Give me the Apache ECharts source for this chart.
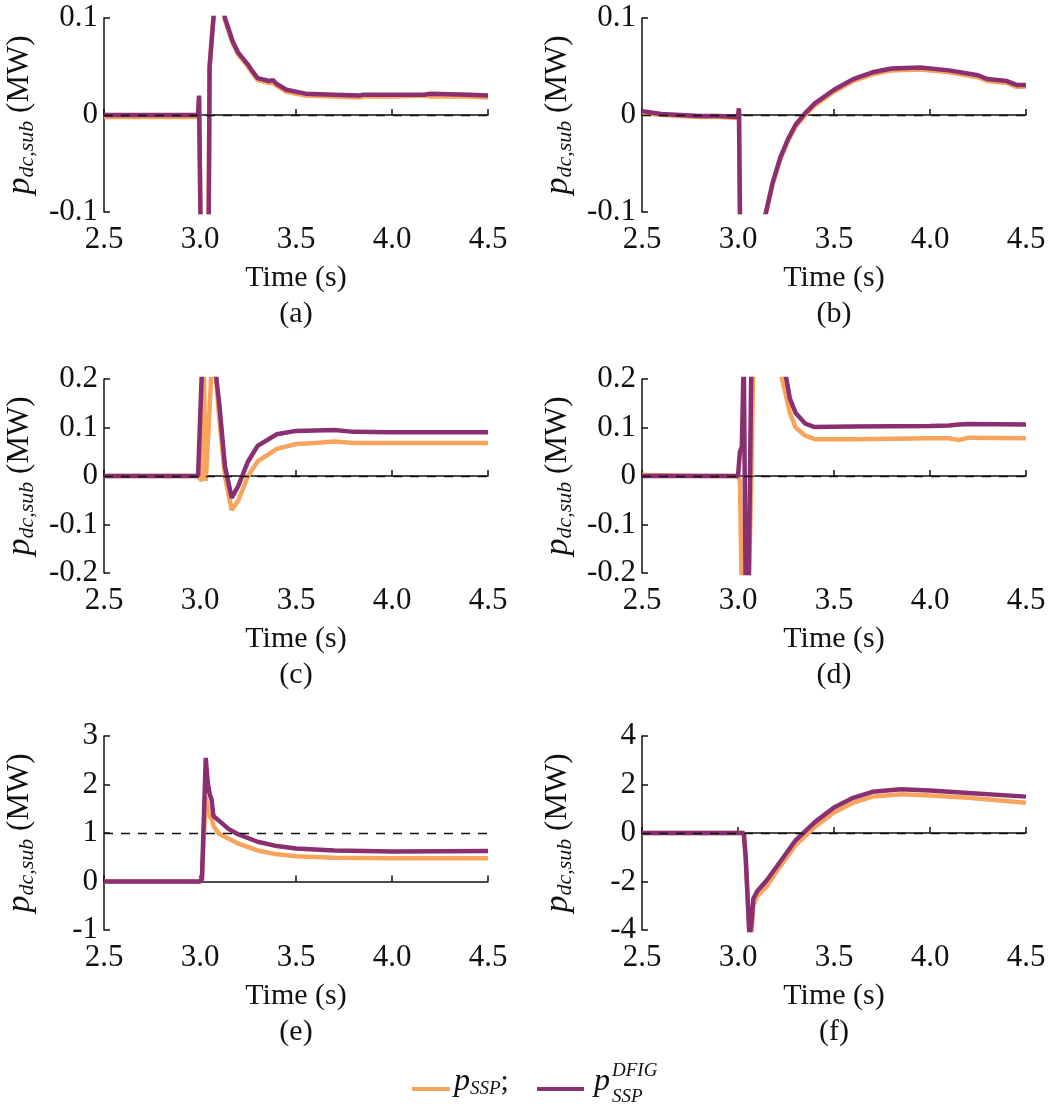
<!DOCTYPE html>
<html>
<head>
<meta charset="utf-8">
<script src="https://cdn.jsdelivr.net/npm/echarts@6/dist/echarts.min.js"></script>
<style>
html,body{margin:0;padding:0;background:#fff;}
#main{width:1049px;height:1113px;}
</style>
</head>
<body>
<div id="main"></div>
<script>
// (a)
var tA = [2.5, 2.99, 2.995, 3.0, 3.005, 3.02, 3.045, 3.05, 3.078, 3.09, 3.13, 3.17, 3.2, 3.25, 3.27, 3.3, 3.36, 3.38, 3.4, 3.45, 3.55, 3.7, 3.83, 3.85, 4.0, 4.17, 4.2, 4.4, 4.5];
var aSSP  = [-0.002, -0.002, 0.018, 0.018, -0.15, -0.15, -0.12, 0.05, 0.12, 0.17, 0.098, 0.074, 0.062, 0.05, 0.044, 0.036, 0.033, 0.033, 0.03, 0.024, 0.02, 0.019, 0.018, 0.019, 0.019, 0.02, 0.019, 0.019, 0.018];
var aDFIG = [0, 0, 0.02, 0.02, -0.15, -0.15, -0.12, 0.05, 0.12, 0.17, 0.1, 0.076, 0.064, 0.052, 0.046, 0.038, 0.035, 0.036, 0.032, 0.026, 0.022, 0.021, 0.02, 0.021, 0.021, 0.021, 0.022, 0.021, 0.02];
// (b)
var tB = [2.5, 2.6, 2.7, 2.8, 2.9, 3.0, 3.005, 3.01, 3.02, 3.146, 3.18, 3.22, 3.26, 3.3, 3.35, 3.4, 3.5, 3.6, 3.7, 3.8, 3.95, 4.1, 4.25, 4.3, 4.4, 4.45, 4.5];
var bSSP  = [0.002, 0.0, -0.001, -0.002, -0.002, -0.003, 0.006, -0.1, -0.2, -0.101, -0.072, -0.046, -0.027, -0.012, 0.0, 0.01, 0.024, 0.035, 0.042, 0.046, 0.047, 0.044, 0.039, 0.035, 0.033, 0.029, 0.029];
var bDFIG = [0.004, 0.001, 0.0, -0.001, -0.001, -0.002, 0.007, -0.1, -0.2, -0.1, -0.07, -0.044, -0.025, -0.01, 0.002, 0.012, 0.026, 0.037, 0.044, 0.048, 0.049, 0.046, 0.041, 0.037, 0.035, 0.031, 0.031];
// (c)
var tC = [2.5, 2.99, 3.0, 3.01, 3.02, 3.03, 3.04, 3.045, 3.06, 3.08, 3.1, 3.13, 3.165, 3.2, 3.25, 3.3, 3.4, 3.5, 3.6, 3.7, 3.8, 4.0, 4.5];
var cSSP  = [0, 0, 0, -0.01, 0.22, -0.01, -0.01, 0.1, 0.22, 0.22, 0.12, 0.0, -0.07, -0.05, 0.0, 0.03, 0.056, 0.066, 0.068, 0.071, 0.068, 0.068, 0.068];
var cDFIG = [0, 0, 0, 0.22, 0.22, 0.22, 0.22, 0.22, 0.22, 0.22, 0.15, 0.02, -0.045, -0.02, 0.03, 0.062, 0.086, 0.093, 0.094, 0.095, 0.091, 0.09, 0.09];
// (d)
var tD = [2.5, 2.8, 3.0, 3.01, 3.02, 3.03, 3.04, 3.055, 3.07, 3.08, 3.2, 3.23, 3.27, 3.3, 3.35, 3.4, 3.6, 4.0, 4.1, 4.15, 4.2, 4.5];
var dSSP  = [0.002, 0, 0, -0.01, -0.25, -0.25, -0.25, -0.25, 0.0, 0.25, 0.25, 0.2, 0.13, 0.1, 0.083, 0.076, 0.076, 0.078, 0.078, 0.074, 0.079, 0.078];
var dDFIG = [0, 0, 0, 0.05, 0.06, 0.25, -0.25, -0.25, 0.25, 0.25, 0.25, 0.25, 0.16, 0.13, 0.108, 0.101, 0.102, 0.103, 0.104, 0.106, 0.107, 0.106];
// (e)
var tE = [2.5, 3.0, 3.01, 3.03, 3.04, 3.05, 3.06, 3.07, 3.1, 3.15, 3.2, 3.3, 3.4, 3.5, 3.7, 4.0, 4.5];
var eSSP  = [0, 0, 0.05, 1.75, 1.5, 1.35, 1.3, 1.15, 0.98, 0.88, 0.78, 0.64, 0.56, 0.52, 0.49, 0.48, 0.48];
var eDFIG = [0, 0, 0.05, 2.55, 2.05, 1.8, 1.7, 1.35, 1.25, 1.08, 0.97, 0.82, 0.73, 0.68, 0.64, 0.62, 0.63];
// (f)
var tF = [2.5, 3.03, 3.04, 3.06, 3.07, 3.08, 3.1, 3.15, 3.2, 3.3, 3.4, 3.5, 3.6, 3.7, 3.85, 4.0, 4.2, 4.5];
var fSSP  = [0, 0, -1.0, -4.3, -4.2, -3.0, -2.6, -2.2, -1.6, -0.5, 0.25, 0.85, 1.25, 1.5, 1.6, 1.55, 1.45, 1.25];
var fDFIG = [0, 0, -1.0, -4.3, -3.7, -2.7, -2.4, -1.95, -1.4, -0.3, 0.45, 1.05, 1.45, 1.7, 1.8, 1.75, 1.65, 1.5];

var yMins = [-0.1, -0.1, -0.2, -0.2, -1, -4];
var yMaxs = [0.1, 0.1, 0.2, 0.2, 3, 4];
var yIntervals = [0.1, 0.1, 0.1, 0.1, 1, 2];
var refLines = [0, 0, 0, 0, 1, 0];
var panelNames = ['(a)', '(b)', '(c)', '(d)', '(e)', '(f)'];

var ORANGE = '#F7A45C';
var PURPLE = '#8A2F72';
var FONT = 'Liberation Serif';

var times = [tA, tB, tC, tD, tE, tF];
var sspData = [aSSP, bSSP, cSSP, dSSP, eSSP, fSSP];
var dfigData = [aDFIG, bDFIG, cDFIG, dDFIG, eDFIG, fDFIG];

var lefts = [104, 642];
var tops = [18, 379, 736];

function pairs(t, v) {
    var out = [];
    for (var i = 0; i < t.length; i++) out.push([t[i], v[i]]);
    return out;
}

var grids = [], xAxes = [], yAxes = [], series = [];
for (var i = 0; i < 6; i++) {
    var col = i % 2, row = Math.floor(i / 2);
    grids.push({left: lefts[col], top: tops[row], width: 384, height: 194});
    xAxes.push({
        gridIndex: i, type: 'value', min: 2.5, max: 4.5, interval: 0.5,
        axisLine: {lineStyle: {color: '#111', width: 1.5}},
        axisTick: {inside: true, length: 6, lineStyle: {color: '#111', width: 1.5}},
        splitLine: {show: false},
        axisLabel: {color: '#111', fontFamily: FONT, fontSize: 31, margin: 12,
            formatter: function (v) { return v.toFixed(1); }},
        name: 'Time (s)\n' + panelNames[i], nameLocation: 'middle', nameGap: 48,
        nameTextStyle: {color: '#111', fontFamily: FONT, fontSize: 30, lineHeight: 36, verticalAlign: 'top'}
    });
    yAxes.push({
        gridIndex: i, type: 'value', min: yMins[i], max: yMaxs[i], interval: yIntervals[i],
        axisLine: {show: true, lineStyle: {color: '#111', width: 1.5}},
        axisTick: {show: true, inside: true, length: 6, lineStyle: {color: '#111', width: 1.5}},
        splitLine: {show: false},
        axisLabel: {color: '#111', fontFamily: FONT, fontSize: 31, margin: 6,
            formatter: function (v) { return Math.abs(v) < 1e-9 ? '0' : String(Math.round(v * 10) / 10); }},
        name: '{p|p}{s|dc,sub}{u| (MW)}', nameLocation: 'middle', nameGap: 66, nameRotate: 90,
        nameTextStyle: {rich: {
            p: {fontFamily: FONT, fontStyle: 'italic', fontSize: 34, color: '#111'},
            s: {fontFamily: FONT, fontStyle: 'italic', fontSize: 22, color: '#111', verticalAlign: 'bottom', padding: [14, 0, 0, 0]},
            u: {fontFamily: FONT, fontSize: 31, color: '#111'}
        }}
    });
    series.push({
        type: 'line', xAxisIndex: i, yAxisIndex: i, showSymbol: false, clip: true,
        data: pairs(times[i], sspData[i]), lineStyle: {color: ORANGE, width: 4.5}, z: 2,
        markLine: {silent: true, symbol: 'none', label: {show: false},
            lineStyle: {color: '#111', type: [9, 8], width: 1.4}, data: [{yAxis: refLines[i]}]}
    });
    series.push({
        type: 'line', xAxisIndex: i, yAxisIndex: i, showSymbol: false, clip: true,
        data: pairs(times[i], dfigData[i]), lineStyle: {color: PURPLE, width: 4.5}, z: 3
    });
}

var chart = echarts.init(document.getElementById('main'));
chart.setOption({
    backgroundColor: '#fff',
    animation: false,
    grid: grids, xAxis: xAxes, yAxis: yAxes, series: series,
    graphic: [
        {type: 'line', shape: {x1: 412, y1: 1089, x2: 450, y2: 1089}, style: {stroke: ORANGE, lineWidth: 4}},
        {type: 'text', left: 454, top: 1066, style: {
            text: '{p|p}{s|SSP}{u|;}', rich: {
                p: {fontFamily: FONT, fontStyle: 'italic', fontSize: 32, fill: '#111'},
                s: {fontFamily: FONT, fontStyle: 'italic', fontSize: 19, fill: '#111', verticalAlign: 'bottom', padding: [14, 0, 0, 0]},
                u: {fontFamily: FONT, fontSize: 30, fill: '#111'}
            }}},
        {type: 'line', shape: {x1: 537, y1: 1089, x2: 584, y2: 1089}, style: {stroke: PURPLE, lineWidth: 4}},
        {type: 'text', left: 594, top: 1066, style: {text: 'p', fontFamily: FONT, fontStyle: 'italic', fontSize: 32, fill: '#111'}},
        {type: 'text', left: 612, top: 1087, style: {text: 'SSP', fontFamily: FONT, fontStyle: 'italic', fontSize: 19, fill: '#111'}},
        {type: 'text', left: 612, top: 1061, style: {text: 'DFIG', fontFamily: FONT, fontStyle: 'italic', fontSize: 19, fill: '#111'}}
    ]
});
</script>
</body>
</html>
